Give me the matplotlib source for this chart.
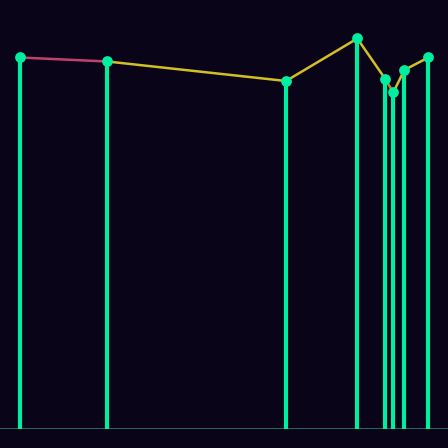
import matplotlib
matplotlib.use('Agg')
import matplotlib.pyplot as plt
import numpy as np

# data
days = [2.03, 10.73, 28.6, 35.73, 38.53, 39.33, 40.43, 42.83]
values = [74.3, 73.5, 69.6, 78.1, 70.0, 67.3, 71.8, 74.3]
seg_colors = ['#c2406c', '#d2bf24', '#d2bf24', '#d2bf24', '#cf7a22', '#d2bf24', '#d2bf24']

bg = '#0a0418'
stem_color = '#00eea0'

fig = plt.figure(figsize=(4.48, 4.48), dpi=100, facecolor=bg)
ax = fig.add_axes([0, 19 / 448, 1, 429 / 448])
ax.set_facecolor(bg)

# connecting line, one colour per segment
for i in range(len(days) - 1):
    ax.plot(days[i:i + 2], values[i:i + 2], color=seg_colors[i], lw=1.8,
            solid_capstyle='round', zorder=2)

# stems
ax.vlines(days, 0, values, color=stem_color, lw=3, zorder=3)
ax.scatter(days, values, s=60, color=stem_color, zorder=4, linewidths=0)

ax.axhline(0, color='#2b7a70', lw=1.2, zorder=1)

ax.set_xlim(0, 44.8)
ax.set_ylim(0, 85.8)
ax.set_xticks([])
ax.set_yticks([])
for s in ax.spines.values():
    s.set_visible(False)

fig.savefig('out.png', dpi=100, facecolor=bg)
